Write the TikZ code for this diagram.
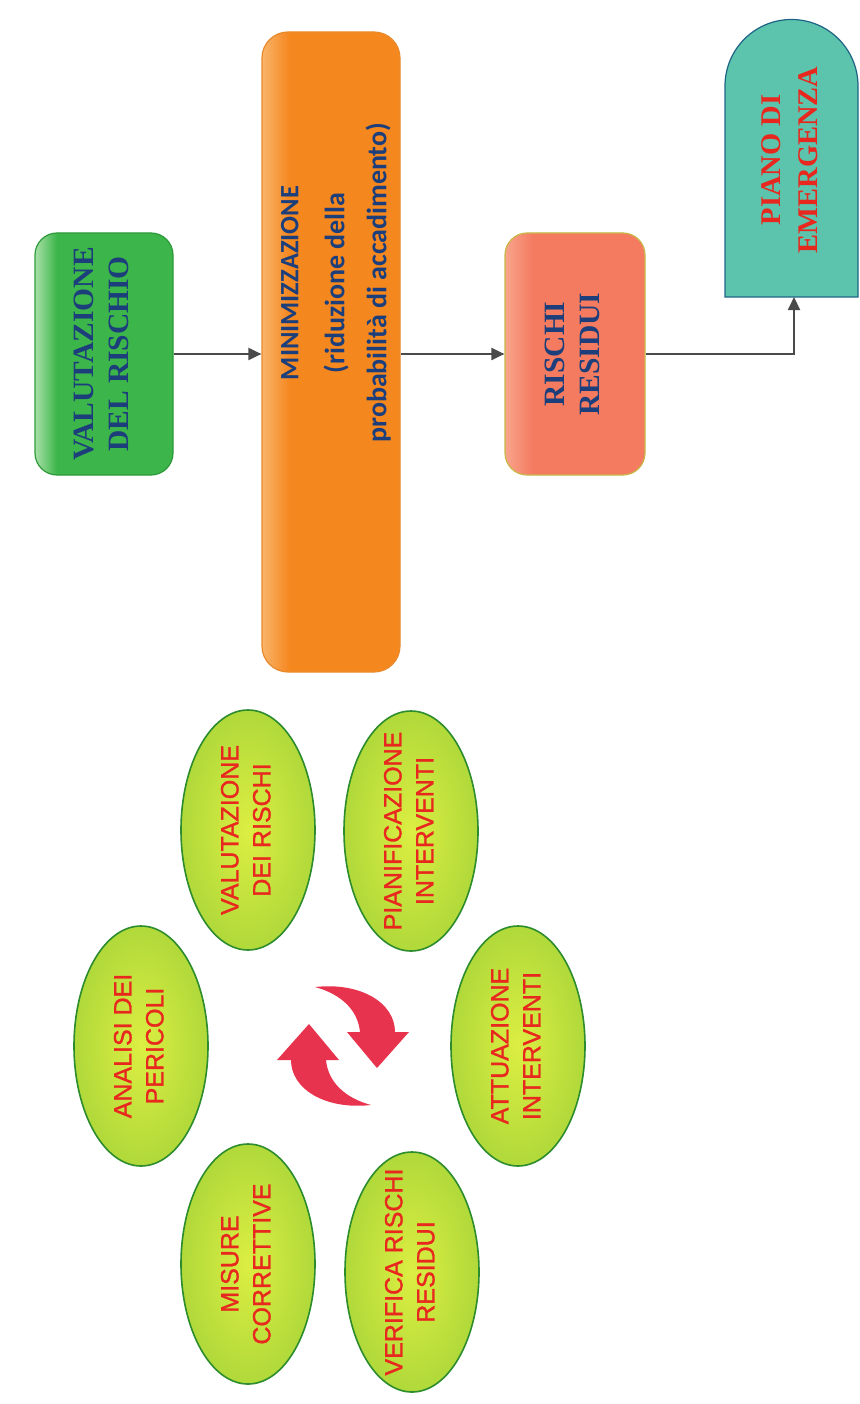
\documentclass[tikz,border=0pt]{standalone}
\usepackage{fontspec}
\usetikzlibrary{arrows.meta,shapes.geometric}
\newfontfamily\boxfont{Liberation Serif}
\newfontfamily\minfont{Carlito}
\newfontfamily\ovalfont{Liberation Sans}[FakeBold=1.2]

\definecolor{boxtext}{HTML}{1C3F7C}
\definecolor{ovaltext}{HTML}{E8281E}
\definecolor{greenbox}{HTML}{3CB54A}
\definecolor{greenhi}{HTML}{A8E0A8}
\definecolor{greenline}{HTML}{2E9A3A}
\definecolor{orangebox}{HTML}{F5871F}
\definecolor{orangehi}{HTML}{F9B46A}
\definecolor{orangeline}{HTML}{E98A2A}
\definecolor{redbox}{HTML}{F47B60}
\definecolor{redhi}{HTML}{F8A48C}
\definecolor{redline}{HTML}{C8B848}
\definecolor{tealmid}{HTML}{A3E2D2}
\definecolor{tealedge}{HTML}{5CC4AC}
\definecolor{tealline}{HTML}{1E6485}
\definecolor{limein}{HTML}{DCEE42}
\definecolor{limeout}{HTML}{B0D93A}
\definecolor{limeline}{HTML}{2D8C2D}
\definecolor{cyclered}{HTML}{E8334E}
\definecolor{linkgray}{HTML}{4A4A4A}

% glossy boxes: light strip on the left edge, flat colour elsewhere
\pgfdeclarehorizontalshading{glossgreen}{100bp}{color(0bp)=(greenhi); color(25bp)=(greenhi); color(33bp)=(greenbox); color(100bp)=(greenbox)}
\pgfdeclarehorizontalshading{glossorange}{100bp}{color(0bp)=(orangehi); color(25bp)=(orangehi); color(35bp)=(orangebox); color(100bp)=(orangebox)}
\pgfdeclarehorizontalshading{glossred}{100bp}{color(0bp)=(redhi); color(25bp)=(redhi); color(35bp)=(redbox); color(100bp)=(redbox)}

% text set bottom-to-top, centred on the node, taking no room of its own
\newcommand\vlines[1]{\rotatebox{90}{\makebox[0pt]{\begin{tabular}{@{}c@{}}#1\end{tabular}}}}

\tikzset{
  link/.style={draw=linkgray, line width=2pt, -{Triangle[length=13pt,width=12pt]}},
  riskbox/.style={rectangle, rounded corners=22pt, inner sep=0pt, line width=1.2pt, shade},
  boxlabel/.style={text=boxtext, font=\boxfont\bfseries\fontsize{29.5}{35}\selectfont},
  oval/.style={ellipse, inner sep=0pt, draw=limeline, line width=1.6pt,
    inner color=limein, outer color=limeout, text=ovaltext,
    minimum width=134pt, minimum height=240pt,
    font=\ovalfont\fontsize{25}{32}\selectfont},
  pics/cyclearrow/.style={code={
    \fill[cyclered] (-28,-59) .. controls (18,-64) and (52,-43) .. (52,-14)
      -- (66,-14) -- (34,22) -- (4,-14) -- (17,-14)
      .. controls (15,-36) and (-2,-52) .. (-28,-59) -- cycle;
  }}
}

\begin{document}
\begin{tikzpicture}[x=1pt,y=-1pt]
\useasboundingbox (0,0) rectangle (859,1404);
\fill[white] (0,0) rectangle (859,1404);

% main chain
\node[riskbox, boxlabel, shading=glossgreen, draw=greenline,
      minimum width=138pt, minimum height=242pt] (val) at (104,354)
      {\vlines{VALUTAZIONE\\DEL RISCHIO}};
\node[riskbox, shading=glossorange, draw=orangeline, rounded corners=26pt,
      minimum width=138pt, minimum height=640pt] (min) at (331,352) {};
\node[text=boxtext, font=\minfont\bfseries\fontsize{28}{42}\selectfont] (mintext) at (334,283)
      {\vlines{{\fontsize{26.5}{30}\selectfont MINIMIZZAZIONE}\\[4pt] (riduzione della\\ probabilità di accadimento)}};
\node[riskbox, boxlabel, shading=glossred, draw=redline,
      minimum width=140pt, minimum height=242pt] (res) at (575,354)
      {\vlines{RISCHI\\RESIDUI}};

% emergency plan: arched tab
\path[draw=tealline, line width=1.2pt, left color=tealedge, middle color=tealmid, right color=tealedge]
  (725,297) -- (725,86) arc[start angle=180, end angle=360, radius=66.5] -- (858,297) -- cycle;
\coordinate (planbase) at (794,297);
\node[boxlabel, text=ovaltext, font=\boxfont\bfseries\fontsize{28.5}{37}\selectfont] (plan) at (791.5,160)
      {\vlines{PIANO DI\\EMERGENZA}};

\draw[link] (val.east) -- (val.east -| min.west);
\draw[link] (res.west -| min.east) -- (res.west);
\draw[link] (res.east) -| (planbase);

% management cycle
\node[oval] (e1) at (248,830)  {\vlines{VALUTAZIONE\\DEI RISCHI}};
\node[oval] (e2) at (411,831)  {\vlines{PIANIFICAZIONE\\INTERVENTI}};
\node[oval] (e3) at (141,1046) {\vlines{ANALISI DEI\\PERICOLI}};
\node[oval] (e4) at (518,1046) {\vlines{ATTUAZIONE\\INTERVENTI}};
\node[oval] (e5) at (248,1264) {\vlines{MISURE\\CORRETTIVE}};
\node[oval] (e6) at (412,1272) {\vlines{VERIFICA RISCHI\\RESIDUI}};

\pic at (343,1046) {cyclearrow};
\pic[rotate=180] at (343,1046) {cyclearrow};
\end{tikzpicture}
\end{document}
